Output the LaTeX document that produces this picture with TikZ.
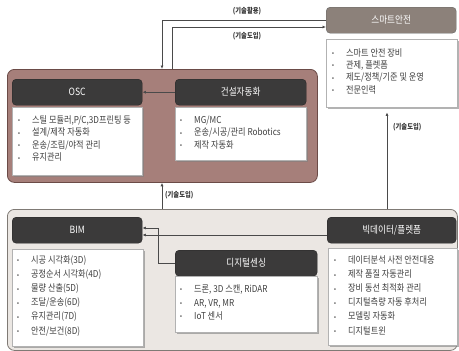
\documentclass[tikz,border=0pt]{standalone}
\usepackage{fontspec}
\setmainfont{Noto Sans CJK KR}[FakeStretch=0.86]
\usetikzlibrary{shadows,arrows.meta}

\definecolor{upfill}{HTML}{A67F7A}
\definecolor{upline}{HTML}{6B4B47}
\definecolor{lowfill}{HTML}{EBE7E3}
\definecolor{lowline}{HTML}{7F7A75}
\definecolor{hdark}{HTML}{3B3A3A}
\definecolor{hsmart}{HTML}{8C817A}
\definecolor{txt}{HTML}{404040}
\definecolor{arr}{HTML}{4A4A4A}

\newcommand{\bi}{\makebox[14pt][l]{\raisebox{0.6pt}{\fontsize{6.5}{6.5}\selectfont •}}}

\begin{document}
\begin{tikzpicture}[x=1pt,y=-1pt,
  group/.style={rounded corners=7pt, line width=0.8pt, anchor=north west, inner sep=0pt},
  hdr/.style={fill=hdark, draw=black!85, rounded corners=4pt, text=white, anchor=north west,
    inner sep=0pt, font=\fontsize{10}{11}\selectfont},
  cbox/.style={fill=white, draw=black!30, line width=0.4pt, anchor=north west, inner sep=0pt,
    drop shadow={shadow xshift=1.3pt, shadow yshift=-1.3pt, fill=black!50, opacity=0.6}},
  lst/.style={anchor=base west, inner sep=0pt, text=txt},
  conn/.style={draw=arr, line width=0.7pt, -{Latex[length=3.5pt,width=3pt]}},
  lbl/.style={font=\fontsize{7.3}{8}\selectfont\bfseries, text=black!80, inner sep=0pt}
]
\useasboundingbox (0,0) rectangle (459,351);

% helper coordinates
\coordinate (xa) at (162,0);
\coordinate (xb) at (172,0);
\coordinate (xc) at (387,0);
\coordinate (xd) at (158,0);
\coordinate (yb) at (0,27);
\coordinate (ye) at (0,228);
\coordinate (yf) at (0,235);

% groups
\node[group, draw=upline, fill=upfill, minimum width=310pt, minimum height=113pt] (upgroup) at (7,69) {};
\node[group, draw=lowline, fill=lowfill, minimum width=450pt, minimum height=141pt] (lowgroup) at (7,209) {};

% smart safety
\node[hdr, fill=hsmart, draw=black!60, minimum width=130pt, minimum height=26pt] (smarth) at (326,7) {스마트안전};
\node[cbox, minimum width=131pt, minimum height=68pt] (smartc) at (326,39) {};
\node[lst] (smartt) at (332,56) {\fontsize{9.5}{12.4}\selectfont
  \begin{tabular}[t]{@{}l@{}}
  \bi 스마트 안전 장비\\
  \bi 관제, 플렛폼\\
  \bi 제도/정책/기준 및 운영\\
  \bi 전문인력
  \end{tabular}};

% OSC
\node[hdr, minimum width=130pt, minimum height=26pt] (osch) at (12,79) {OSC};
\node[cbox, minimum width=130pt, minimum height=68pt] (oscc) at (12,107) {};
\node[lst] (osct) at (18,123.5) {\fontsize{9.5}{12.4}\selectfont
  \begin{tabular}[t]{@{}l@{}}
  \bi 스틸 모듈러,P/C,3D프린팅 등\\
  \bi 설계/제작 자동화\\
  \bi 운송/조립/야적 관리\\
  \bi 유지관리
  \end{tabular}};

% construction automation
\node[hdr, minimum width=131pt, minimum height=26pt] (conh) at (175,79) {건설자동화};
\node[cbox, minimum width=131pt, minimum height=53pt] (conc) at (175,107) {};
\node[lst] (cont) at (180,123.5) {\fontsize{9.5}{12.4}\selectfont
  \begin{tabular}[t]{@{}l@{}}
  \bi MG/MC\\
  \bi 운송/시공/관리 Robotics\\
  \bi 제작 자동화
  \end{tabular}};

% BIM
\node[hdr, minimum width=130pt, minimum height=26pt] (bimh) at (12,217) {BIM};
\node[cbox, minimum width=131pt, minimum height=97pt] (bimc) at (12,249) {};
\node[lst] (bimt) at (17,263.5) {\fontsize{9.5}{14.1}\selectfont
  \begin{tabular}[t]{@{}l@{}}
  \bi 시공 시각화(3D)\\
  \bi 공정순서 시각화(4D)\\
  \bi 물량 산출(5D)\\
  \bi 조달/운송(6D)\\
  \bi 유지관리(7D)\\
  \bi 안전/보건(8D)
  \end{tabular}};

% digital sensing
\node[hdr, minimum width=142pt, minimum height=26pt] (digh) at (175,250) {디지털센싱};
\node[cbox, minimum width=142pt, minimum height=56pt] (digc) at (175,276) {};
\node[lst] (digt) at (180,292.5) {\fontsize{9.5}{13.5}\selectfont
  \begin{tabular}[t]{@{}l@{}}
  \bi 드론, 3D 스캔, RiDAR\\
  \bi AR, VR, MR\\
  \bi IoT 센서
  \end{tabular}};

% big data
\node[hdr, minimum width=129pt, minimum height=26pt] (bigh) at (327,217) {빅데이터/플렛폼};
\node[cbox, minimum width=129pt, minimum height=97pt] (bigc) at (328,248) {};
\node[lst] (bigt) at (334,263.5) {\fontsize{9.5}{14.1}\selectfont
  \begin{tabular}[t]{@{}l@{}}
  \bi 데이터분석 사전 안전대응\\
  \bi 제작 품질 자동관리\\
  \bi 장비 동선 최적화 관리\\
  \bi 디지털측량 자동 후처리\\
  \bi 모델링 자동화\\
  \bi 디지털트윈
  \end{tabular}};

% connectors
\draw[conn] (smarth.west) -| (xa |- upgroup.north);
\draw[conn] (xb |- upgroup.north) |- (smarth.west |- yb);
\draw[conn] (conh.west) -- (osch.east);
\draw[conn] (xa |- lowgroup.north) -- (xa |- upgroup.south);
\draw[conn, shorten >=5pt] (xc |- lowgroup.north) -- (xc |- smartc.south);
\draw[conn] (digh.west) -| (xd |- ye) -- (bimh.east |- ye);
\draw[conn] (bigh.west |- yf) -- (bimh.east |- yf);

% labels
\node[lbl] (l1) at (247,11) {(기술활용)};
\node[lbl] (l2) at (247,36) {(기술도입)};
\node[lbl, anchor=west] (l3) at (165,195) {(기술도입)};
\node[lbl, anchor=west] (l4) at (393,127) {(기술도입)};
\end{tikzpicture}
\end{document}
